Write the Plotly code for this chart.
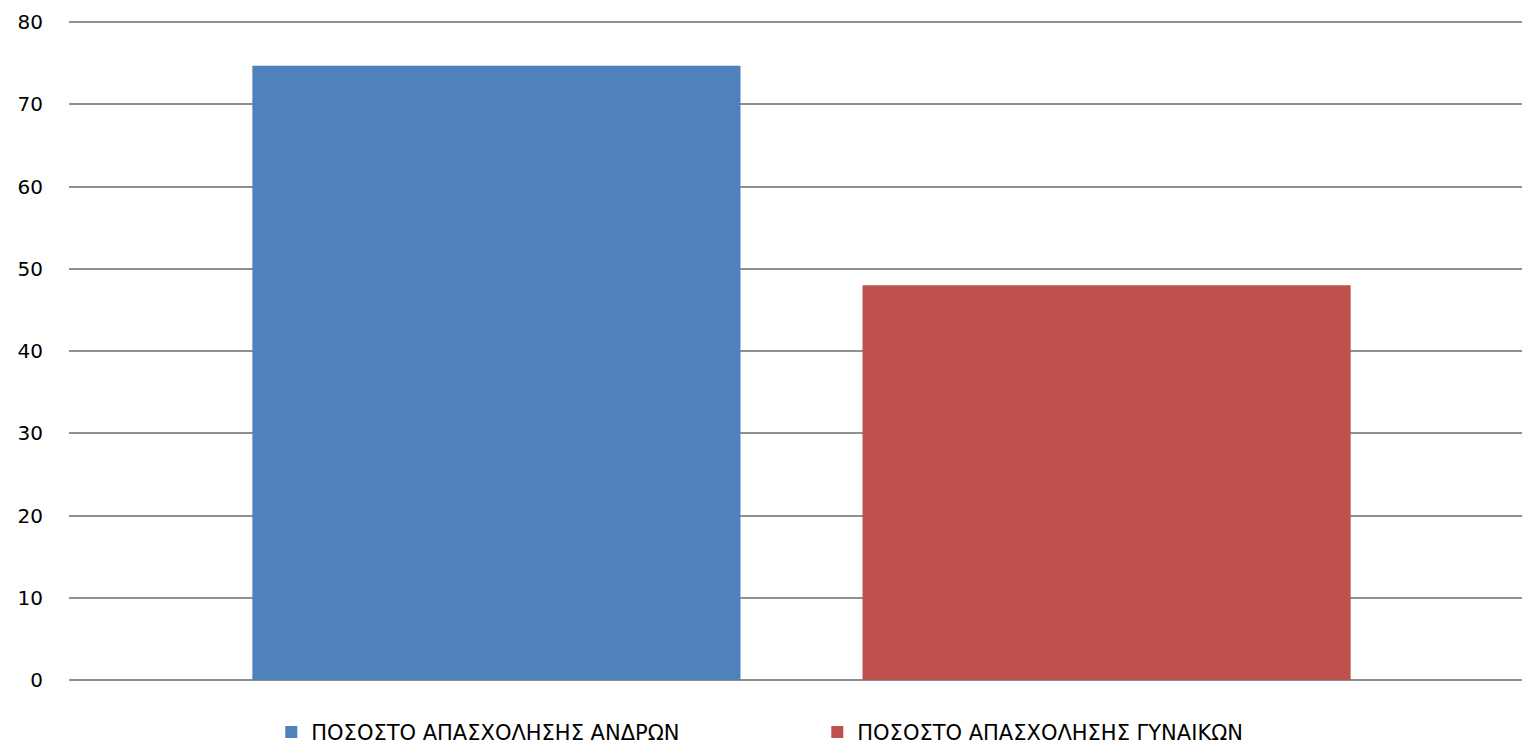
import plotly.graph_objects as go

categories = [""]
series_names = ["ΠΟΣΟΣΤΟ ΑΠΑΣΧΟΛΗΣΗΣ ΑΝΔΡΩΝ", "ΠΟΣΟΣΤΟ ΑΠΑΣΧΟΛΗΣΗΣ ΓΥΝΑΙΚΩΝ"]
men_values = [74.7]
women_values = [48.0]
tick_values = [0, 10, 20, 30, 40, 50, 60, 70, 80]

colors = ["#4F81BD", "#C0504D"]

fig = go.Figure()
fig.add_trace(go.Bar(x=categories, y=men_values, name=series_names[0],
                     marker=dict(color=colors[0], line=dict(width=0))))
fig.add_trace(go.Bar(x=categories, y=women_values, name=series_names[1],
                     marker=dict(color=colors[1], line=dict(width=0))))

font_family = "DejaVu Sans, Arial, sans-serif"

fig.update_layout(
    width=1522, height=745,
    margin=dict(l=69, r=0, t=18, b=65, autoexpand=False),
    paper_bgcolor="white", plot_bgcolor="white",
    barmode="group", bargap=0.167, bargroupgap=0.2,
    font=dict(family=font_family, size=21, color="#000000"),
    showlegend=True,
    legend=dict(orientation="h", x=0.515, xanchor="center",
                yref="container", y=0.017, yanchor="middle",
                font=dict(family=font_family, size=21, color="#000000"),
                entrywidth=501, entrywidthmode="pixels",
                itemclick=False, itemdoubleclick=False),
    xaxis=dict(showgrid=False, showticklabels=False, showline=False, zeroline=False,
               ticks="", range=[-0.5, 0.4918]),
    yaxis=dict(range=[0, 80.5], tickvals=tick_values, showgrid=True,
               gridcolor="#8f8f8f", gridwidth=1.5, zeroline=True,
               zerolinecolor="#8f8f8f", zerolinewidth=1.5, showline=False,
               ticks="", ticklabelstandoff=25,
               tickfont=dict(family=font_family, size=20, color="#000000")),
)

fig.write_html("out.html", config={"displayModeBar": False},
               post_script="document.body.style.margin='0';document.body.style.overflow='hidden';")
